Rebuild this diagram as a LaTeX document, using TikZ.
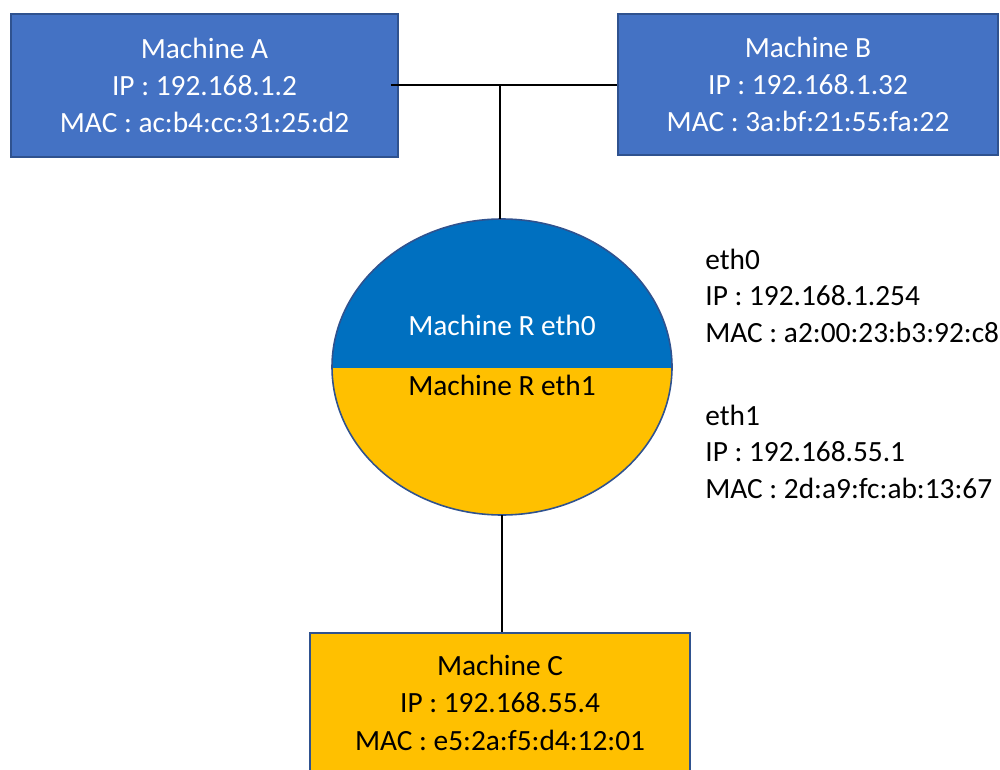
\documentclass[tikz,border=0pt]{standalone}
\usepackage{fontspec}
\setmainfont{Carlito}
\usetikzlibrary{shapes.geometric}
\definecolor{boxblue}{HTML}{4472C4}
\definecolor{edgeblue}{HTML}{2F528F}
\definecolor{topblue}{HTML}{0070C0}
\definecolor{gold}{HTML}{FFC000}
\tikzset{
  x=0.02cm, y=-0.02cm,
  txt/.style={font=\fontsize{16.7}{21.3}\selectfont, align=center, inner sep=0pt},
  sidetxt/.style={font=\fontsize{16.7}{20.6}\selectfont, align=left, inner sep=0pt, anchor=base west},
  machinebox/.style={rectangle, draw=edgeblue, line width=0.9pt, inner sep=0pt, txt},
  bluebox/.style={machinebox, fill=boxblue, text=white},
  goldbox/.style={machinebox, fill=gold, text=black},
  wire/.style={draw=black, line width=0.6pt},
}
\begin{document}
\begin{tikzpicture}
\useasboundingbox (0,0) rectangle (1000,770);
\node[bluebox, minimum width=7.74cm, minimum height=2.86cm] (A) at (204.5,85.5)
  {Machine A\\IP : 192.168.1.2\\MAC : ac:b4:cc:31:25:d2};
\node[bluebox, minimum width=7.6cm, minimum height=2.82cm] (B) at (808,84.5)
  {Machine B\\IP : 192.168.1.32\\MAC : 3a:bf:21:55:fa:22};
\node[goldbox, minimum width=7.6cm, minimum height=2.9cm, anchor=north] (C) at (500,632) {};
\node[txt, anchor=base] (Ct) at (500,750)
  {Machine C\\IP : 192.168.55.4\\MAC : e5:2a:f5:d4:12:01};
% router ellipse
\node[ellipse, minimum width=6.8cm, minimum height=5.92cm, inner sep=0pt] (R) at (502,367) {};
\begin{scope}
  \clip (502,367) ellipse [x radius=170, y radius=148];
  \fill[topblue] (320,200) rectangle (690,368);
  \fill[gold] (320,368) rectangle (690,530);
\end{scope}
\draw[edgeblue, line width=0.9pt] (502,367) ellipse [x radius=170, y radius=148];
\node[txt, text=white, anchor=base] (R0) at (502,335) {Machine R eth0};
\node[txt, text=black, anchor=base] (R1) at (502,395) {Machine R eth1};
% interface info
\node[sidetxt] (I0) at (705,342)
  {eth0\\IP : 192.168.1.254\\MAC : a2:00:23:b3:92:c8};
\node[sidetxt] (I1) at (705,498)
  {eth1\\IP : 192.168.55.1\\MAC : 2d:a9:fc:ab:13:67};
% connectors
\coordinate (j) at (500,85);
\draw[wire] ([xshift=-0.16cm]A.east |- j) -- (B.west |- j);
\draw[wire] (j) -- (j |- R.north);
\draw[wire] (R.south) -- (R.south |- C.north);
\end{tikzpicture}
\end{document}
